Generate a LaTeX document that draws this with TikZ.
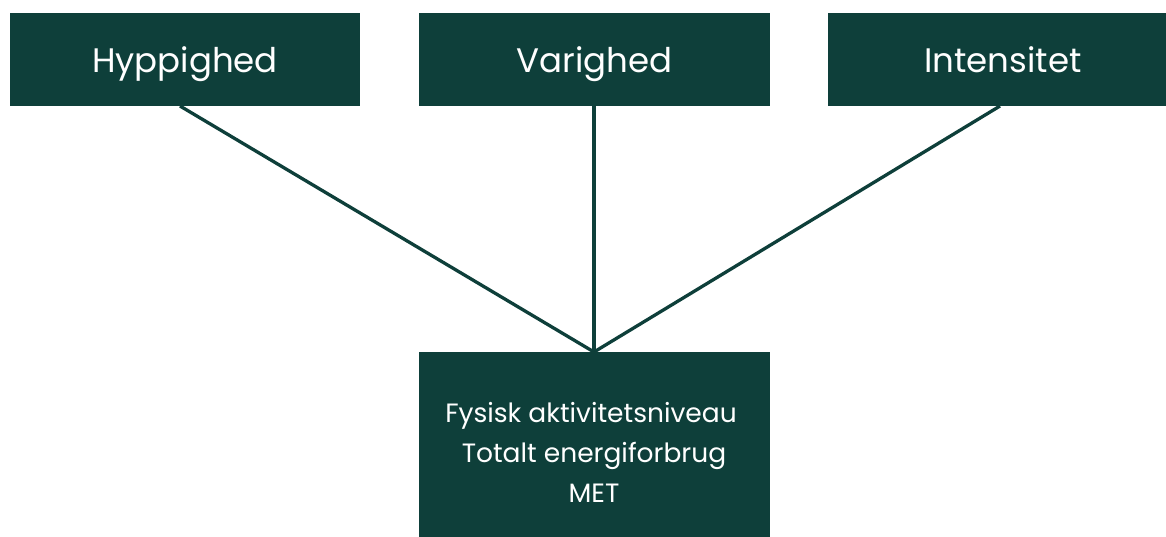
\documentclass[tikz,border=0pt]{standalone}
\usepackage{fontspec}
\setmainfont{Poppins}
\definecolor{boxgreen}{HTML}{0E3F3A}
\begin{document}
\begin{tikzpicture}[x=1pt,y=-1pt,
  topbox/.style={fill=boxgreen,draw=none,inner sep=0pt,minimum height=92.5pt},
  toptext/.style={text=white,inner sep=0pt,anchor=base,font=\fontsize{34}{40}\selectfont},
  bottext/.style={text=white,inner sep=0pt,anchor=base,font=\fontsize{26.5}{32}\selectfont},
  link/.style={draw=boxgreen,line width=3.3pt}]
\useasboundingbox (0,0) rectangle (1166,537);
\node[topbox,minimum width=350.5pt] (hyp) at (185,59.75) {};
\node[topbox,minimum width=351pt] (var) at (594.5,59.75) {};
\node[topbox,minimum width=339pt] (int) at (997.5,59.75) {};
\node[fill=boxgreen,draw=none,inner sep=0pt,minimum width=351pt,minimum height=186pt] (bot) at (594.5,445) {};
\node[toptext] (hyptxt) at (185,73) {Hyppighed};
\node[toptext] (vartxt) at (594.5,73) {Varighed};
\node[toptext] (inttxt) at (1003,73) {Intensitet};
\node[bottext] (l1) at (591,422) {Fysisk aktivitetsniveau};
\node[bottext] (l2) at (594,462) {Totalt energiforbrug};
\node[bottext] (l3) at (594,502) {MET};
\coordinate (hypend) at (180,106);
\coordinate (varend) at (594,106);
\coordinate (intend) at (1000,106);
\coordinate (meet) at (594,352);
\draw[link] (hypend) -- (meet);
\draw[link] (varend) -- (meet);
\draw[link] (intend) -- (meet);
\end{tikzpicture}
\end{document}
